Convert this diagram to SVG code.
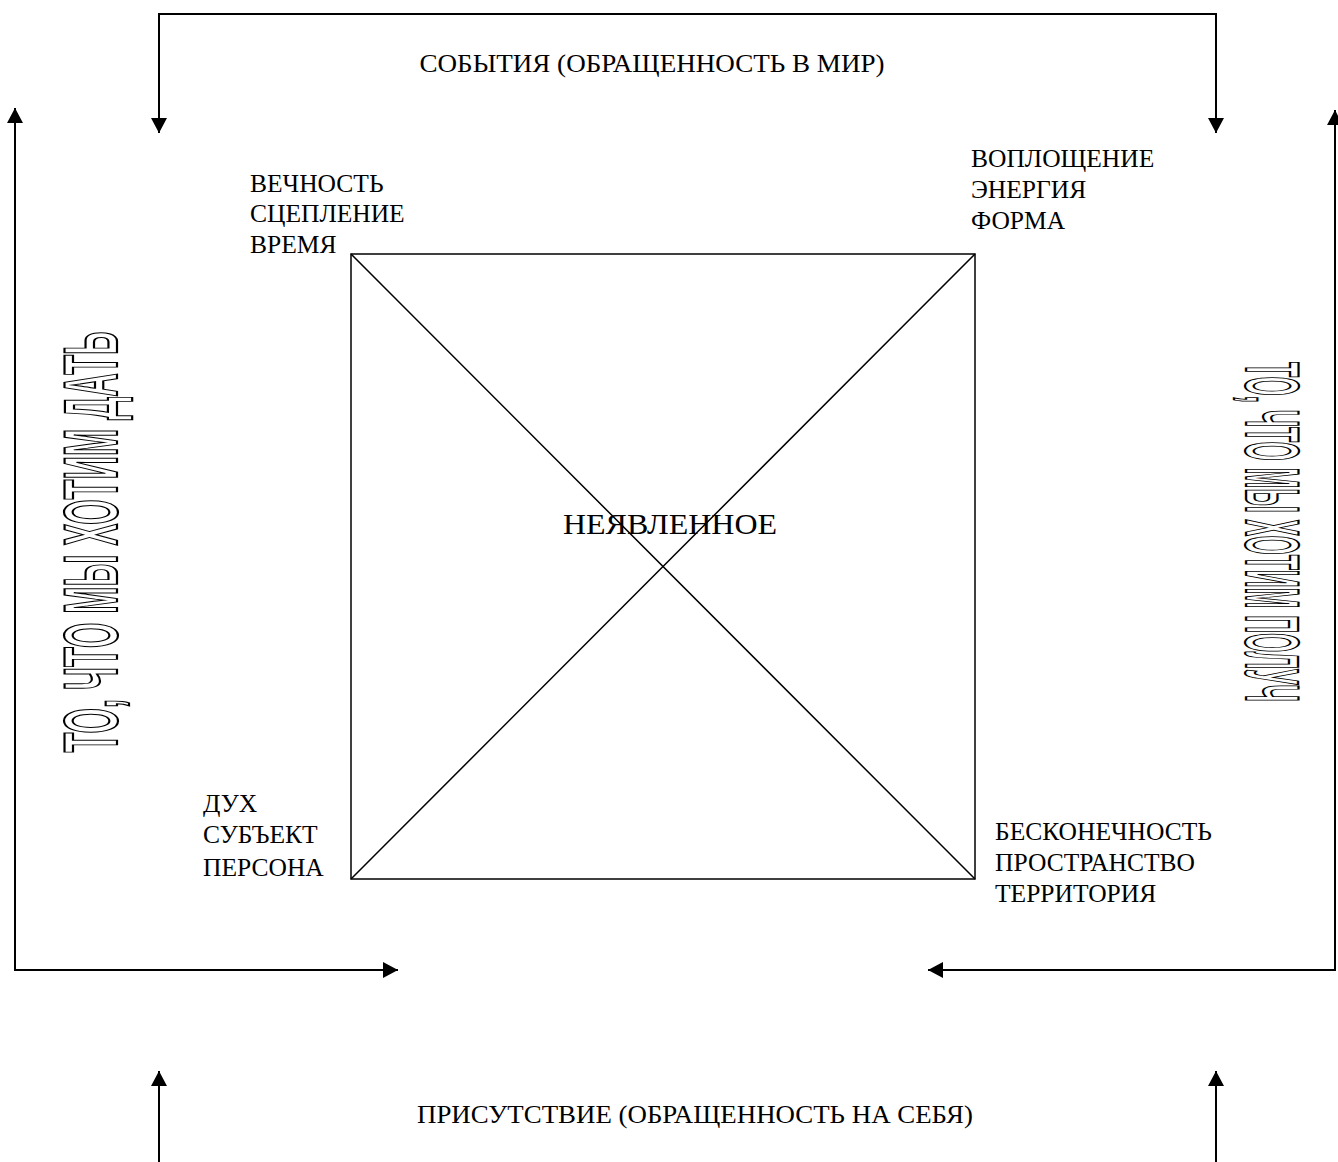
<svg xmlns="http://www.w3.org/2000/svg" width="1338" height="1162" viewBox="0 0 1338 1162">
<style>
.ln{stroke:#000;stroke-width:2;fill:none}
.thin{stroke:#000;stroke-width:1.5;fill:none}
.lbl{font-family:"Liberation Serif","Times New Roman",serif;font-size:25.5px;fill:#000}
.big{font-family:"Liberation Sans",Arial,sans-serif;font-size:76px;fill:#fff;stroke:#000;stroke-width:2.2;font-weight:bold}
</style>
<defs>
<marker id="ah" markerUnits="userSpaceOnUse" markerWidth="16" markerHeight="16" refX="15" refY="8" orient="auto">
<path d="M0,0 L15,8 L0,16 Z" fill="#000"/>
</marker>
</defs>
<g id="connectors">
<polyline class="ln" points="159,133 159,14 1216,14 1216,133" marker-end="url(#ah)"/>
<path class="ln" d="M159,14 L159,133" marker-end="url(#ah)"/>
<polyline class="ln" points="15,108 15,970 398,970" marker-end="url(#ah)"/>
<path class="ln" d="M15,970 L15,108" marker-end="url(#ah)"/>
<polyline class="ln" points="1335,110 1335,970 928,970" marker-end="url(#ah)"/>
<path class="ln" d="M1335,970 L1335,110" marker-end="url(#ah)"/>
<path class="ln" d="M159,1162 L159,1071" marker-end="url(#ah)"/>
<path class="ln" d="M1216,1162 L1216,1071" marker-end="url(#ah)"/>
</g>
<g id="square">
<rect class="thin" x="351" y="254" width="624" height="625"/>
<path class="thin" d="M351,254 L975,879 M975,254 L351,879"/>
</g>
<g id="center">
<text class="lbl" x="670" y="534" text-anchor="middle" style="font-size:29px" textLength="214" lengthAdjust="spacingAndGlyphs">НЕЯВЛЕННОЕ</text>
</g>
<g id="top-label">
<text class="lbl" x="652" y="72" text-anchor="middle" style="font-size:26px" textLength="465" lengthAdjust="spacingAndGlyphs">СОБЫТИЯ (ОБРАЩЕННОСТЬ В МИР)</text>
</g>
<g id="bottom-label">
<text class="lbl" x="695" y="1123" text-anchor="middle" style="font-size:26px" textLength="556" lengthAdjust="spacingAndGlyphs">ПРИСУТСТВИЕ (ОБРАЩЕННОСТЬ НА СЕБЯ)</text>
</g>
<g id="tl">
<text class="lbl" x="250" y="192">ВЕЧНОСТЬ</text>
<text class="lbl" x="250" y="222">СЦЕПЛЕНИЕ</text>
<text class="lbl" x="250" y="253">ВРЕМЯ</text>
</g>
<g id="tr">
<text class="lbl" x="971" y="167">ВОПЛОЩЕНИЕ</text>
<text class="lbl" x="971" y="198">ЭНЕРГИЯ</text>
<text class="lbl" x="971" y="229">ФОРМА</text>
</g>
<g id="bl">
<text class="lbl" x="203" y="812">ДУХ</text>
<text class="lbl" x="203" y="843">СУБЪЕКТ</text>
<text class="lbl" x="203" y="876">ПЕРСОНА</text>
</g>
<g id="br">
<text class="lbl" x="995" y="840">БЕСКОНЕЧНОСТЬ</text>
<text class="lbl" x="995" y="871">ПРОСТРАНСТВО</text>
<text class="lbl" x="995" y="902">ТЕРРИТОРИЯ</text>
</g>
<g id="left-vertical">
<text class="big" transform="translate(117,542) rotate(-90) scale(0.43,1)" x="0" y="0" text-anchor="middle" textLength="979" lengthAdjust="spacingAndGlyphs">ТО, ЧТО МЫ ХОТИМ ДАТЬ</text>
</g>
<g id="right-vertical">
<text class="big" transform="translate(1246,532) rotate(90) scale(0.36,1)" x="0" y="0" text-anchor="middle" textLength="944" lengthAdjust="spacingAndGlyphs">ТО, ЧТО МЫ ХОТИМ ПОЛУЧ</text>
</g>
</svg>
